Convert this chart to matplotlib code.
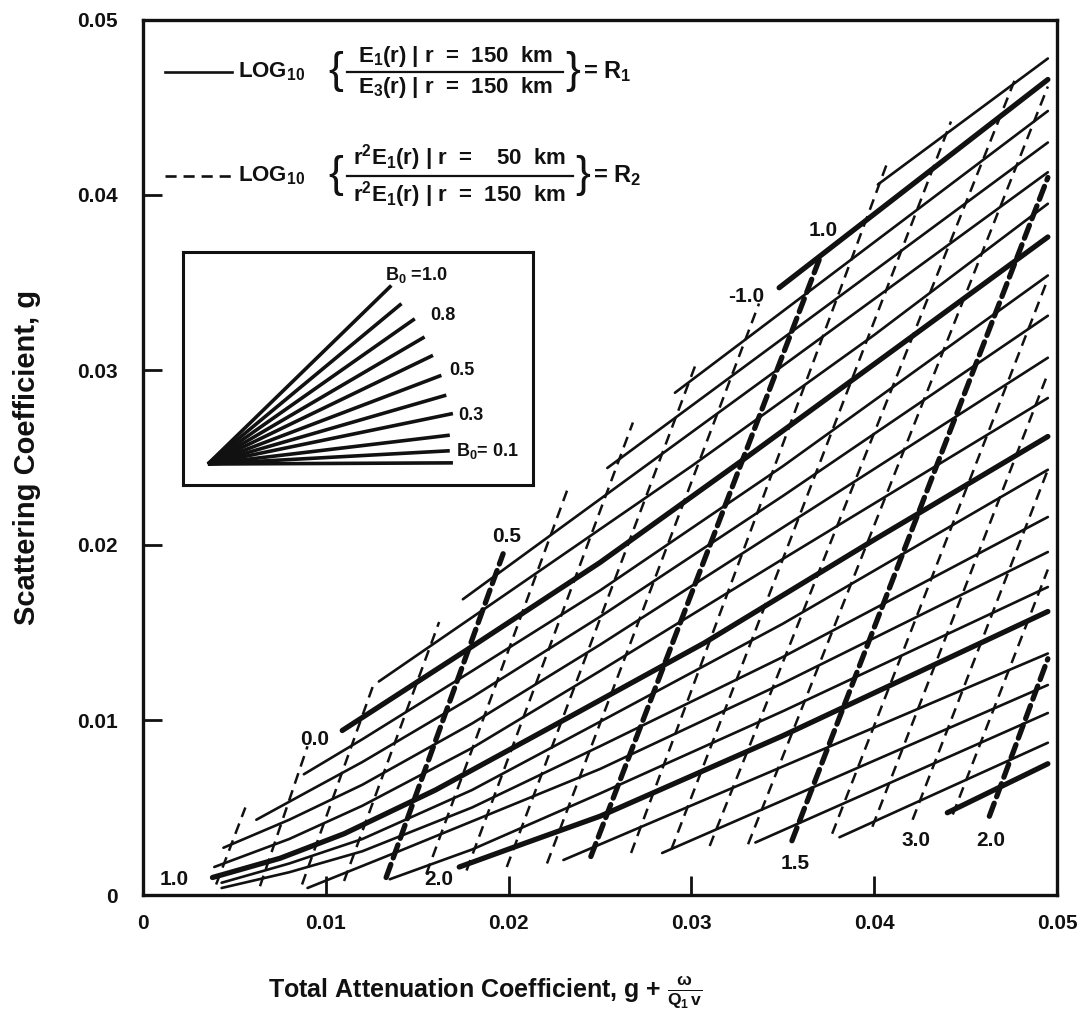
import matplotlib
matplotlib.use("Agg")
import matplotlib.pyplot as plt
from matplotlib import font_manager
from matplotlib.lines import Line2D


# ---------------- DATA ----------------
# R1 contours (solid), vertices of each curve from the top of the fan downwards
r1_x = [
    [0.0402, 0.0495],
    [0.0348, 0.0495],
    [0.0291, 0.0495],
    [0.0254, 0.0495],
    [0.0175, 0.0495],
    [0.0129, 0.0200, 0.0300, 0.0400, 0.0495],
    [0.0109, 0.0180, 0.0250, 0.0330, 0.0410, 0.0495],
    [0.0088, 0.0120, 0.0180, 0.0250, 0.0350, 0.0495],
    [0.0062, 0.0090, 0.0120, 0.0180, 0.0250, 0.0350, 0.0495],
    [0.0044, 0.0080, 0.0120, 0.0180, 0.0250, 0.0350, 0.0495],
    [0.0039, 0.0080, 0.0120, 0.0180, 0.0250, 0.0350, 0.0495],
    [0.0038, 0.0075, 0.0110, 0.0160, 0.0225, 0.0307, 0.0400, 0.0495],
    [0.0043, 0.0080, 0.0120, 0.0180, 0.0250, 0.0350, 0.0495],
    [0.0043, 0.0080, 0.0120, 0.0180, 0.0250, 0.0350, 0.0495],
    [0.0090, 0.0140, 0.0250, 0.0350, 0.0495],
    [0.0135, 0.0180, 0.0250, 0.0350, 0.0495],
    [0.0173, 0.0210, 0.0250, 0.0350, 0.0495],
    [0.0230, 0.0495],
    [0.0284, 0.0495],
    [0.0335, 0.0495],
    [0.0381, 0.0495],
    [0.0440, 0.0495],
]
r1_y = [
    [0.0406, 0.0478],
    [0.0347, 0.0466],
    [0.0287, 0.0448],
    [0.0244, 0.0430],
    [0.0169, 0.0413],
    [0.0122, 0.0173, 0.0245, 0.0320, 0.0395],
    [0.0094, 0.0142, 0.0190, 0.0250, 0.0311, 0.0376],
    [0.0069, 0.0089, 0.0128, 0.0174, 0.0245, 0.0354],
    [0.0043, 0.0059, 0.0076, 0.0113, 0.0159, 0.0228, 0.0331],
    [0.0027, 0.0043, 0.0063, 0.0098, 0.0143, 0.0210, 0.0307],
    [0.0016, 0.0032, 0.0051, 0.0084, 0.0128, 0.0192, 0.0284],
    [0.0010, 0.0021, 0.0035, 0.0060, 0.0097, 0.0144, 0.0203, 0.0262],
    [0.0007, 0.0018, 0.0032, 0.0060, 0.0099, 0.0155, 0.0243],
    [0.0004, 0.0013, 0.0025, 0.0050, 0.0085, 0.0136, 0.0216],
    [0.0004, 0.0025, 0.0072, 0.0121, 0.0196],
    [0.0009, 0.0026, 0.0058, 0.0105, 0.0176],
    [0.0016, 0.0030, 0.0045, 0.0091, 0.0162],
    [0.0020, 0.0138],
    [0.0024, 0.0120],
    [0.0030, 0.0104],
    [0.0033, 0.0087],
    [0.0047, 0.0075],
]
r1_heavy = [False, True, False, False, False, False, True, False, False, False,
            False, True, False, False, False, False, True, False, False, False,
            False, True]

# R2 contours (dashed), lower end then upper end
r2_x = [
    [0.0040, 0.0056], [0.0064, 0.0090], [0.0087, 0.0126], [0.0110, 0.0162],
    [0.0133, 0.0197], [0.0155, 0.0233], [0.0177, 0.0268], [0.0199, 0.0303],
    [0.0221, 0.0337], [0.0245, 0.0371], [0.0267, 0.0407], [0.0289, 0.0442],
    [0.0310, 0.0477], [0.0331, 0.0495], [0.0355, 0.0495], [0.0377, 0.0495],
    [0.0399, 0.0495], [0.0421, 0.0495], [0.0443, 0.0495], [0.0463, 0.0495],
]
r2_y = [
    [0.0006, 0.0050], [0.0005, 0.0085], [0.0006, 0.0120], [0.0008, 0.0156],
    [0.0010, 0.0195], [0.0012, 0.0234], [0.0014, 0.0270], [0.0016, 0.0305],
    [0.0018, 0.0338], [0.0022, 0.0366], [0.0024, 0.0418], [0.0026, 0.0442],
    [0.0028, 0.0466], [0.0029, 0.0462], [0.0031, 0.0410], [0.0035, 0.0352],
    [0.0039, 0.0298], [0.0043, 0.0243], [0.0046, 0.0186], [0.0045, 0.0135],
]
r2_heavy = [False, False, False, False, True, False, False, False, False, True,
            False, False, False, False, True, False, False, False, False, True]

# contour value labels
curve_labels = ["1.0", "-1.0", "0.5", "0.0", "1.0", "2.0", "1.5", "3.0", "2.0"]
curve_label_x = [0.0372, 0.0330, 0.0199, 0.0094, 0.0017, 0.0162, 0.0357, 0.0423, 0.0464]
curve_label_y = [0.0380, 0.0342, 0.0205, 0.0089, 0.0009, 0.0009, 0.0018, 0.0031, 0.0031]

# inset: B0 fan, from B0 = 1.0 (steepest) to B0 = 0
inset_origin = (0.071, 0.090)
inset_end_x = [0.595, 0.624, 0.662, 0.690, 0.714, 0.738, 0.752, 0.771, 0.762, 0.762, 0.771]
inset_end_y = [0.857, 0.779, 0.714, 0.636, 0.557, 0.471, 0.386, 0.307, 0.214, 0.147, 0.095]
inset_labels = ["B$_0$ =1.0", "0.8", "0.5", "0.3", "B$_0$= 0.1"]
inset_label_x = [0.576, 0.705, 0.760, 0.785, 0.781]
inset_label_y = [0.904, 0.726, 0.493, 0.300, 0.147]

ticks = [0, 0.01, 0.02, 0.03, 0.04, 0.05]
tick_labels = ["0", "0.01", "0.02", "0.03", "0.04", "0.05"]
# --------------------------------------


installed = {f.name for f in font_manager.fontManager.ttflist}
narrow = "Liberation Sans Narrow" if "Liberation Sans Narrow" in installed else "Liberation Sans"

plt.rcParams["font.family"] = [narrow, "Liberation Sans", "DejaVu Sans"]
plt.rcParams["font.weight"] = "bold"
plt.rcParams["mathtext.fontset"] = "custom"
plt.rcParams["mathtext.rm"] = "Liberation Sans:bold"
plt.rcParams["mathtext.it"] = "Liberation Sans:bold"
plt.rcParams["mathtext.bf"] = "Liberation Sans:bold"
plt.rcParams["lines.scale_dashes"] = False

INK = "#111111"
W, H = 1087, 1021


def fig_xy(x, y):
    # pixel position (from top-left) -> figure fraction
    return x / W, 1 - y / H


fig = plt.figure(figsize=(W / 100, H / 100), dpi=100)
ax = fig.add_axes([143 / W, 1 - 895 / H, 914 / W, 875 / H])
ax.set_xlim(0, 0.05)
ax.set_ylim(0, 0.05)

for xs, ys, heavy in zip(r1_x, r1_y, r1_heavy):
    ax.plot(xs, ys, color=INK, lw=3.8 if heavy else 1.9,
            solid_capstyle="round", solid_joinstyle="round")

for xs, ys, heavy in zip(r2_x, r2_y, r2_heavy):
    if heavy:
        ax.plot(xs, ys, color=INK, lw=3.8, dashes=(10, 5), dash_capstyle="round")
    else:
        ax.plot(xs, ys, color=INK, lw=1.8, dashes=(8, 5), dash_capstyle="butt")

for txt, x, y in zip(curve_labels, curve_label_x, curve_label_y):
    ax.text(x, y, txt, fontsize=15, ha="center", va="center", color=INK)

# axes styling
for sp in ax.spines.values():
    sp.set_linewidth(2.4)
    sp.set_color(INK)
ax.set_xticks(ticks)
ax.set_yticks(ticks)
ax.set_xticklabels(tick_labels)
ax.set_yticklabels(tick_labels)
ax.tick_params(axis="both", direction="in", length=14, width=2, colors=INK, labelsize=15)
ax.tick_params(axis="x", pad=14)
ax.tick_params(axis="y", pad=18)

ax.text(-0.127, 0.5, "Scattering Coefficient, g", rotation=90, transform=ax.transAxes,
        ha="center", va="center", fontsize=21, family="Liberation Sans", color=INK)
ax.text(0.374, -0.111, r"Total Attenuation Coefficient, g + $\frac{\omega}{Q_1\,v}$",
        transform=ax.transAxes, ha="center", va="center", fontsize=18, color=INK)

# inset sketch of the B0 fan
ins = ax.inset_axes([0.0438, 0.4686, 0.383, 0.266])
ins.set_xlim(0, 1)
ins.set_ylim(0, 1)
ins.set_xticks([])
ins.set_yticks([])
for sp in ins.spines.values():
    sp.set_linewidth(2.2)
    sp.set_color(INK)
for ex, ey in zip(inset_end_x, inset_end_y):
    ins.plot([inset_origin[0], ex], [inset_origin[1], ey], color=INK, lw=2.6,
             solid_capstyle="butt")
for txt, x, y in zip(inset_labels, inset_label_x, inset_label_y):
    ins.text(x, y, txt, fontsize=13, ha="left", va="center", color=INK)

# key for the two contour families
key_rows = [
    (72, "-", r"E$_1$(r) | r  =  150  km", r"E$_3$(r) | r  =  150  km", r"= R$_1$", 563),
    (176, "--", r"r$^2$E$_1$(r) | r  =    50  km", r"r$^2$E$_1$(r) | r  =  150  km", r"= R$_2$", 573),
]
for yc, ls, num, den, rhs, bar_end in key_rows:
    x0, y0 = fig_xy(165, yc)
    x1, _ = fig_xy(232, yc)
    key_line = Line2D([x0, x1], [y0, y0], transform=fig.transFigure, color=INK, lw=1.9)
    if ls == "--":
        key_line.set_dashes((8, 5))
    fig.add_artist(key_line)
    fig.text(*fig_xy(238, yc), r"LOG$_{10}$", fontsize=16, ha="left", va="center",
             color=INK, family="Liberation Sans")
    fig.text(*fig_xy(328, yc), "{", fontsize=32, ha="left", va="center", color=INK,
             family="Liberation Sans", fontweight="normal")
    bx0, by = fig_xy(347, yc)
    bx1, _ = fig_xy(bar_end, yc)
    fig.add_artist(Line2D([bx0, bx1], [by, by], transform=fig.transFigure, color=INK, lw=1.6))
    mid = (347 + bar_end) / 2
    fig.text(*fig_xy(mid, yc - 3), num, fontsize=16, ha="center", va="bottom",
             color=INK, family="Liberation Sans")
    fig.text(*fig_xy(mid, yc + 3), den, fontsize=16, ha="center", va="top",
             color=INK, family="Liberation Sans")
    fig.text(*fig_xy(bar_end + 2, yc), "}", fontsize=32, ha="left", va="center", color=INK,
             family="Liberation Sans", fontweight="normal")
    fig.text(*fig_xy(bar_end + 20, yc), rhs, fontsize=17, ha="left", va="center",
             color=INK, family="Liberation Sans")

fig.savefig("out.png", dpi=100, facecolor="white")
